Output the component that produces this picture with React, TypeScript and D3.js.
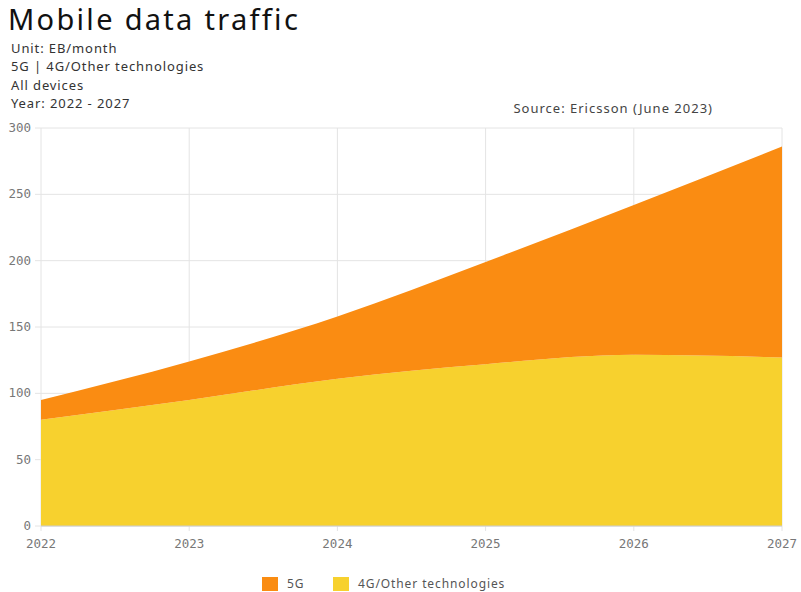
import React from "react";
import * as d3 from "d3";

const years = [2022, 2023, 2024, 2025, 2026, 2027];
const other4G = [80, 95, 111, 122, 129, 127];
const fiveG = [15, 29, 47, 77, 113, 159];
const yTicks = [0, 50, 100, 150, 200, 250, 300];
const seriesNames = ["5G", "4G/Other technologies"];
const seriesColors = ["#FA8C12", "#F7D12E"];

export default function App() {
  const W = 801, H = 592;
  const left = 41, right = 782, top = 128, bottom = 526;
  const x = d3.scaleLinear().domain([2022, 2027]).range([left, right]);
  const y = d3.scaleLinear().domain([0, 300]).range([bottom, top]);
  const data = years.map((yr, i) => ({ yr, a: other4G[i], b: other4G[i] + fiveG[i] }));
  const area4G = d3.area<any>().x(d => x(d.yr)).y0(y(0)).y1(d => y(d.a)).curve(d3.curveMonotoneX)(data)!;
  const area5G = d3.area<any>().x(d => x(d.yr)).y0(d => y(d.a)).y1(d => y(d.b)).curve(d3.curveMonotoneX)(data)!;
  const sans = "'Noto Sans', 'Open Sans', sans-serif";
  const mono = "'DejaVu Sans Mono', monospace";
  return (
    <svg width={W} height={H} style={{ position: "absolute", left: 0, top: 0, background: "#fff" }}>
      <text x={8} y={30} fontFamily={sans} fontSize={29} letterSpacing={2.3} fill="#111">Mobile data traffic</text>
      {["Unit: EB/month", "5G | 4G/Other technologies", "All devices", "Year: 2022 - 2027"].map((t, i) => (
        <text key={t} x={11} y={53 + i * 18.3} fontFamily={sans} fontSize={13} letterSpacing={0.9} fill="#333">{t}</text>
      ))}
      <text x={713} y={113} textAnchor="end" fontFamily={sans} fontSize={13} letterSpacing={1} fill="#444">Source: Ericsson (June 2023)</text>
      {yTicks.map(t => (
        <g key={t}>
          <line x1={35} x2={right} y1={y(t)} y2={y(t)} stroke="#e4e4e4" strokeWidth={1} />
          <text x={31} y={y(t) + 4} textAnchor="end" fontFamily={mono} fontSize={12.5} fill="#777">{t}</text>
        </g>
      ))}
      {years.map(yr => (
        <g key={yr}>
          <line x1={x(yr)} x2={x(yr)} y1={top} y2={bottom + 5} stroke="#e4e4e4" strokeWidth={1} />
          <text x={x(yr)} y={548} textAnchor="middle" fontFamily={mono} fontSize={12.5} fill="#777">{yr}</text>
        </g>
      ))}
      <path d={area4G} fill={seriesColors[1]} />
      <path d={area5G} fill={seriesColors[0]} />
      <line x1={left} x2={right} y1={bottom} y2={bottom} stroke="#ccc" />
      {seriesNames.map((n, i) => {
        const lx = i === 0 ? 262 : 333;
        return (
          <g key={n}>
            <rect x={lx} y={577} width={16} height={14} fill={seriesColors[i]} />
            <text x={lx + 25} y={588} fontFamily={sans} fontSize={12} letterSpacing={0.9} fill="#555">{n}</text>
          </g>
        );
      })}
    </svg>
  );
}
